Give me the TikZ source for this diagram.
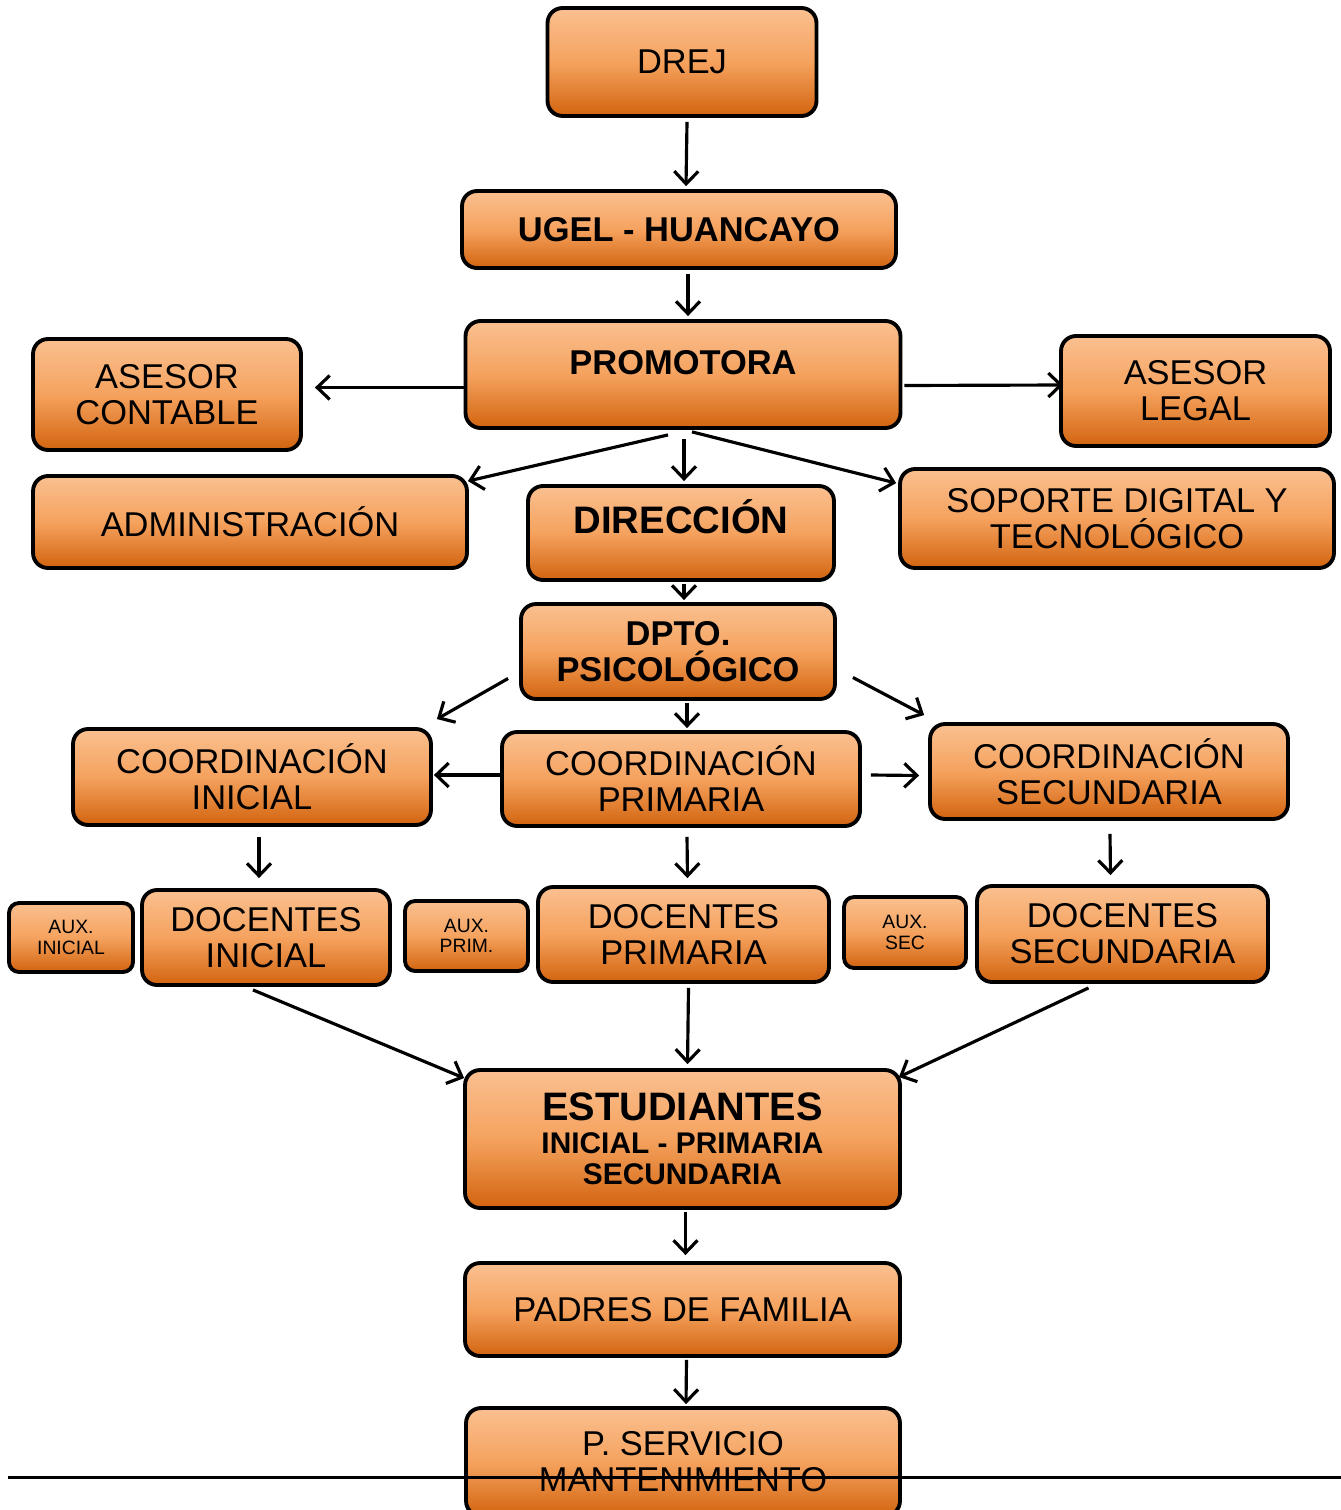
\documentclass[tikz,border=0pt]{standalone}
\usepackage{fontspec}
\setmainfont{Liberation Sans}
\usepackage{tikz}
\usetikzlibrary{arrows.meta, calc}
\definecolor{orTop}{HTML}{FAC090}
\definecolor{orMid}{HTML}{F5A25E}
\definecolor{orBot}{HTML}{D2640F}

\begin{document}
\begin{tikzpicture}[
    x=0.02cm, y=-0.02cm,
    box/.style={rectangle, rounded corners=0.3cm, draw, line width=2.2pt, inner sep=0pt,
        top color=orTop, bottom color=orBot, middle color=orMid, align=center,
        font=\fontsize{19.6}{20.5}\selectfont},
    aux/.style={box, rounded corners=0.2cm, font=\fontsize{11}{11.5}\selectfont},
    wh/.style 2 args={minimum width=#1cm, minimum height=#2cm},
    arrow/.style={-{Straight Barb[length=2.5mm, width=4.8mm, line width=1.8pt]}, line width=1.8pt}
]
\clip (0,0) rectangle (1341,1510);
\node[box, wh={5.38}{2.16}] (drej) at (682,62) {DREJ};
\node[box, wh={8.68}{1.54}, font=\fontsize{19.6}{20.5}\selectfont\bfseries] (ugel) at (679,229.5) {UGEL - HUANCAYO};
\node[box, wh={8.70}{2.14}, font=\fontsize{19.6}{20.5}\selectfont\bfseries, text depth=0.5cm] (prom) at (683,374.5) {PROMOTORA};
\node[box, wh={5.36}{2.22}] (acont) at (167,394.5) {ASESOR\\CONTABLE};
\node[box, wh={5.38}{2.20}] (alegal) at (1195.5,391) {ASESOR\\LEGAL};
\node[box, wh={8.68}{1.84}] (adm) at (250,522) {ADMINISTRACIÓN};
\node[box, wh={6.12}{1.88}, font=\fontsize{21.8}{23}\selectfont\bfseries, text depth=0.65cm] (dir) at (681,533) {DIRECCIÓN};
\node[box, wh={8.68}{1.98}] (sop) at (1117,518.5) {SOPORTE DIGITAL Y\\TECNOLÓGICO};
\node[box, wh={6.28}{1.90}, font=\fontsize{19.6}{20.5}\selectfont\bfseries] (psi) at (678,651.5) {DPTO.\\PSICOLÓGICO};
\node[box, wh={7.16}{1.92}] (ci) at (252,777) {COORDINACIÓN\\INICIAL};
\node[box, wh={7.16}{1.88}] (cp) at (681,779) {COORDINACIÓN\\PRIMARIA};
\node[box, wh={7.16}{1.90}] (cs) at (1109,771.5) {COORDINACIÓN\\SECUNDARIA};
\node[aux, wh={2.48}{1.38}] (axi) at (71,937.5) {AUX.\\INICIAL};
\node[box, wh={4.96}{1.90}] (di) at (266,937.5) {DOCENTES\\INICIAL};
\node[aux, wh={2.46}{1.40}] (axp) at (466.5,936) {AUX.\\PRIM.};
\node[box, wh={5.82}{1.90}] (dp) at (683.5,934.5) {DOCENTES\\PRIMARIA};
\node[aux, wh={2.44}{1.42}] (axs) at (905,932.5) {AUX.\\SEC};
\node[box, wh={5.82}{1.92}] (ds) at (1122.5,934) {DOCENTES\\SECUNDARIA};
\node[box, wh={8.70}{2.76}] (est) at (682.5,1139)
    {\fontsize{22.6}{24}\selectfont\bfseries ESTUDIANTES\\[-2pt]
     \fontsize{17}{17.5}\selectfont\bfseries INICIAL - PRIMARIA\\[-2.5pt]
     \fontsize{17}{17.5}\selectfont\bfseries SECUNDARIA};
\node[box, wh={8.70}{1.86}] (pad) at (682.5,1309.5) {PADRES DE FAMILIA};
\node[box, wh={8.68}{2.16}] (serv) at (683,1462) {P. SERVICIO\\MANTENIMIENTO};

% connectors
\draw[arrow] ($(drej.south)+(5,4)$) -- ($(ugel.north)+(7,-3)$);
\draw[arrow] ($(ugel.south)+(9,4)$) -- ($(prom.north)+(5,-3)$);
\draw[arrow] ($(prom.west)+(0,13)$) -- ($(acont.east)+(12,-7)$);
\draw[arrow] ($(prom.east)+(2,11)$) -- ($(alegal.west)+(4,-6)$);
\draw[arrow] ($(prom.south)+(-15,5)$) -- ($(adm.north east)+(-1,7)$);
\draw[arrow] ($(prom.south)+(1,9)$) -- ($(dir.north)+(3,-3)$);
\draw[arrow] ($(prom.south)+(9,2)$) -- ($(sop.north west)+(-2,16)$);
\draw[arrow] ($(dir.south)+(3,2)$) -- ($(psi.north)+(6,-2)$);
\draw[arrow] ($(psi.west)+(-11,27)$) -- ($(ci.north east)+(4,-8)$);
\draw[arrow] ($(psi.south)+(9,2)$) -- ($(cp.north)+(6,-2)$);
\draw[arrow] ($(psi.east)+(16,26)$) -- ($(cs.north west)+(-4,-7)$);
\draw[arrow] ($(cp.west)+(0,-4)$) -- ($(ci.east)+(1,-2)$);
\draw[arrow] ($(cp.east)+(9,-4)$) -- ($(cs.west)+(-9,4)$);
\draw[arrow] ($(ci.south)+(7,10)$) -- ($(di.north)+(-7,-10)$);
\draw[arrow] ($(cp.south)+(6,9)$) -- ($(dp.north)+(4,-7)$);
\draw[arrow] ($(cs.south)+(1,13)$) -- ($(ds.north)+(-12,-9)$);
\draw[arrow] ($(di.south)+(-13,3)$) -- ($(est.north west)+(1,10)$);
\draw[arrow] ($(dp.south)+(5,4)$) -- ($(est.north)+(5,-4)$);
\draw[arrow] ($(ds.south)+(-34,4)$) -- ($(est.north east)+(-3,9)$);
\draw[arrow] ($(est.south)+(3,2)$) -- ($(pad.north)+(3,-6)$);
\draw[arrow] ($(pad.south)+(4,2)$) -- ($(serv.north)+(3,-2)$);

% rule across the page
\coordinate (r1) at (8,1477);
\coordinate (r2) at (1341,1477);
\draw[line width=1.7pt] (r1) -- (r2);
\end{tikzpicture}
\end{document}
